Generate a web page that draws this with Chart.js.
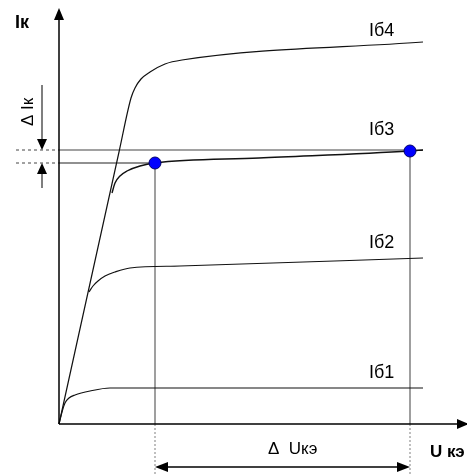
<!DOCTYPE html>
<html>
<head>
<meta charset="utf-8">
<script src="https://cdn.jsdelivr.net/npm/chart.js@4"></script>
<style>
html, body { margin: 0; padding: 0; background: #fff; }
</style>
</head>
<body>
<canvas id="chart" width="467" height="475"></canvas>
<script>
// Output characteristics Iк(Uкэ), drawing units (U along x, I along y)
const curveNames = ['Iб1', 'Iб2', 'Iб3', 'Iб4'];
const ib1 = [[0, 0], [0.3, 1.2], [0.6, 2.1], [1.0, 2.6], [1.6, 2.9], [3.1, 3.3], [5.1, 3.6], [8.0, 3.6], [36.4, 3.6]];
const ib2 = [[3.0, 13.2], [3.4, 13.8], [3.9, 14.3], [4.6, 14.8], [5.6, 15.2], [7.1, 15.6], [12.1, 15.8], [36.4, 16.6]];
const ib3 = [[5.3, 23.1], [5.6, 24.1], [6.1, 24.8], [6.8, 25.3], [8.1, 25.8], [9.6, 26.1], [20.0, 26.6], [35.1, 27.3], [36.4, 27.4]];
const ib4 = [[0, 0], [6.0, 27.2], [7.2, 32.6], [7.6, 33.6], [8.2, 34.5], [9.1, 35.2], [10.6, 36.0], [12.3, 36.4], [36.4, 38.2]];
// operating points on the Iб3 curve
const workPoints = [[9.6, 26.1], [35.1, 27.3]];
const uLevels = [9.6, 35.1];      // Uкэ of the two points
const iLevels = [26.1, 27.4];     // Iк of the two points

const black = '#111';
const grey = '#808080';

function line(pts, color, width, dash) {
    return {
        data: pts.map(p => ({ x: p[0], y: p[1] })),
        showLine: true,
        pointRadius: 0,
        borderColor: color,
        borderWidth: width,
        borderDash: dash || [],
        fill: false,
        order: 2
    };
}

function curve(pts, width) {
    const ds = line(pts, black, width || 1.2);
    ds.cubicInterpolationMode = 'monotone';
    return ds;
}

const datasets = [
    {
        data: workPoints.map(p => ({ x: p[0], y: p[1] })),
        pointRadius: 6,
        pointBackgroundColor: '#0000ff',
        pointBorderColor: '#00006a',
        pointBorderWidth: 1,
        showLine: false,
        order: 0
    },
    // axes
    line([[0, 0], [0, 41.0]], '#000', 1.5),
    line([[0, 0], [40.9, 0]], '#000', 1.5),
    // characteristics
    curve(ib1), curve(ib2), curve(ib3, 1.4), curve(ib4),
    // level lines through the points
    line([[0, iLevels[1]], [36.4, iLevels[1]]], '#444', 1.2),
    line([[0, iLevels[0]], [uLevels[0], iLevels[0]]], '#222', 1.2),
    line([[-4.3, iLevels[1]], [0, iLevels[1]]], '#444', 1, [3, 3]),
    line([[-4.3, iLevels[0]], [0, iLevels[0]]], '#444', 1, [3, 3]),
    line([[uLevels[0], iLevels[0]], [uLevels[0], 0]], grey, 1.5),
    line([[uLevels[1], workPoints[1][1]], [uLevels[1], 0]], grey, 1.5),
    line([[uLevels[0], 0], [uLevels[0], -5.2]], grey, 1, [2, 2]),
    line([[uLevels[1], 0], [uLevels[1], -5.2]], grey, 1, [2, 2]),
    // delta arrows shafts
    line([[-1.7, 33.9], [-1.7, iLevels[1] + 1.0]], '#555', 1.5),
    line([[-1.7, 23.6], [-1.7, iLevels[0] - 1.0]], '#555', 1.5),
    line([[uLevels[0] + 1.0, -4.3], [uLevels[1] - 1.0, -4.3]], '#000', 1.5)
];

function arrowHead(ctx, tx, ty, dx, dy, len, half) {
    // tip at (tx,ty), pointing along (dx,dy)
    const bx = tx - dx * len, by = ty - dy * len;
    ctx.beginPath();
    ctx.moveTo(tx, ty);
    ctx.lineTo(bx - dy * half, by + dx * half);
    ctx.lineTo(bx + dy * half, by - dx * half);
    ctx.closePath();
    ctx.fill();
}

const decorations = {
    id: 'decorations',
    afterDatasetsDraw(chart) {
        const ctx = chart.ctx;
        const xs = chart.scales.x, ys = chart.scales.y;
        const px = v => xs.getPixelForValue(v);
        const py = v => ys.getPixelForValue(v);
        ctx.save();
        ctx.fillStyle = '#000';

        // axis arrows
        arrowHead(ctx, px(0), py(41.6), 0, -1, 12, 5);
        arrowHead(ctx, px(41.0), py(0), 1, 0, 12, 5);

        // delta I arrows
        arrowHead(ctx, px(-1.7), py(iLevels[1]), 0, 1, 11, 5);
        arrowHead(ctx, px(-1.7), py(iLevels[0]), 0, -1, 11, 5);

        // delta U arrows
        arrowHead(ctx, px(uLevels[0]), py(-4.3), -1, 0, 13, 5);
        arrowHead(ctx, px(uLevels[1]), py(-4.3), 1, 0, 13, 5);

        // texts
        ctx.textBaseline = 'alphabetic';
        ctx.textAlign = 'left';
        ctx.font = 'bold 18px "Liberation Sans", Arial, sans-serif';
        ctx.fillText('Iк', 15, 28);

        ctx.font = '18px "Liberation Sans", Arial, sans-serif';
        const baselines = [4.6, 17.6, 28.9, 38.8];
        curveNames.forEach((name, i) => {
            ctx.fillText(name, px(31.0), py(baselines[i]));
        });

        ctx.font = '17px "Liberation Sans", Arial, sans-serif';
        ctx.fillText('Δ  Uкэ', 268, 454);

        ctx.font = 'bold 17px "Liberation Sans", Arial, sans-serif';
        ctx.fillText('U кэ', 430, 457);

        // rotated delta Ik
        ctx.save();
        ctx.translate(28, 112);
        ctx.rotate(-Math.PI / 2);
        ctx.font = '17px "Liberation Sans", Arial, sans-serif';
        ctx.textAlign = 'center';
        ctx.textBaseline = 'middle';
        ctx.fillText('Δ Iк', 0, 0);
        ctx.restore();

        ctx.restore();
    }
};

new Chart(document.getElementById('chart'), {
    type: 'scatter',
    data: { datasets: datasets },
    options: {
        responsive: false,
        animation: false,
        layout: { padding: 0, autoPadding: false },
        plugins: {
            legend: { display: false },
            tooltip: { enabled: false }
        },
        scales: {
            x: { type: 'linear', min: -5.9, max: 40.8, display: false },
            y: { type: 'linear', min: -5.1, max: 42.4, display: false }
        }
    },
    plugins: [decorations]
});
</script>
</body>
</html>
